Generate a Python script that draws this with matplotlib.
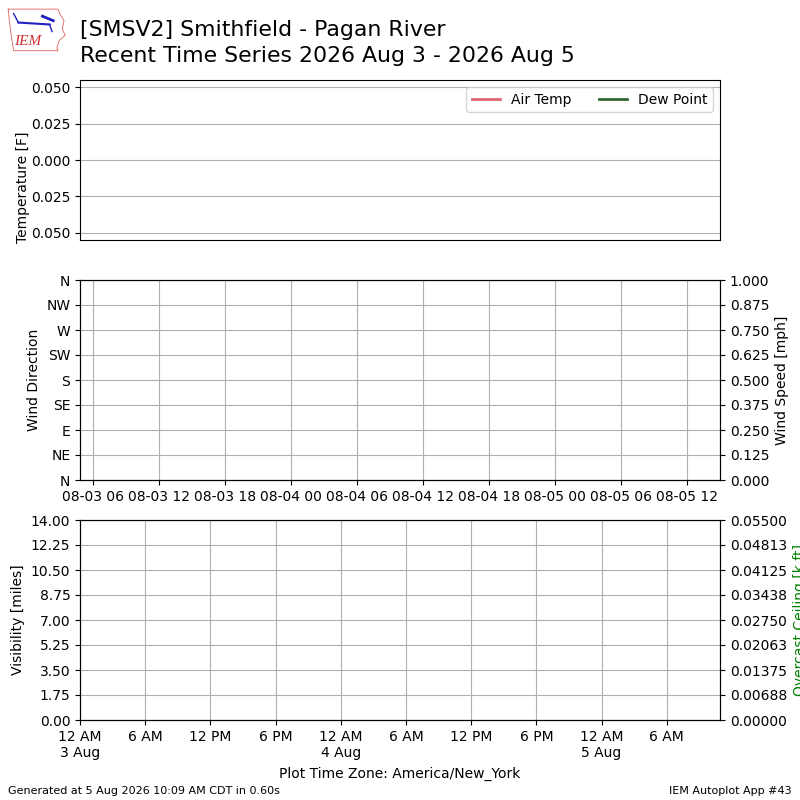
import datetime
import matplotlib
matplotlib.use('Agg')
import matplotlib.pyplot as plt
import matplotlib.dates as mdates
from matplotlib.ticker import FixedLocator, FuncFormatter

# data (the station reported nothing, so the series are empty)
times = []
air_temp = []
dew_point = []
wind_dir = []
wind_speed = []
visibility = []
ceiling = []

title_lines = ['[SMSV2] Smithfield - Pagan River',
               'Recent Time Series 2026 Aug 3 - 2026 Aug 5']
dir_ticks = [0, 45, 90, 135, 180, 225, 270, 315, 360]
dir_labels = ['N', 'NE', 'E', 'SE', 'S', 'SW', 'W', 'NW', 'N']
speed_ticks = [0, 0.125, 0.25, 0.375, 0.5, 0.625, 0.75, 0.875, 1.0]
vis_ticks = [0, 1.75, 3.5, 5.25, 7.0, 8.75, 10.5, 12.25, 14.0]
ceil_ticks = [0, 0.006875, 0.01375, 0.020625, 0.0275, 0.034375,
              0.04125, 0.048125, 0.055]

mid_xlim = (datetime.datetime(2026, 8, 3, 4, 49), datetime.datetime(2026, 8, 5, 15, 0))
bot_xlim = (datetime.datetime(2026, 8, 3, 0, 0), datetime.datetime(2026, 8, 5, 10, 54))

fig = plt.figure(figsize=(8, 8), dpi=100)

# title
fig.text(0.1, 0.9625, title_lines[0], fontsize=15.8, va='center')
fig.text(0.1, 0.93, title_lines[1], fontsize=15.8, va='center')

# rough logo: state outline + IEM
logo = fig.add_axes([0.008, 0.935, 0.075, 0.056])
logo.set_xlim(0, 10)
logo.set_ylim(0, 7)
logo.axis('off')
outline_x = [0.3, 8.6, 9.0, 9.6, 9.3, 9.8, 8.8, 8.4, 8.6, 1.2, 0.9, 0.5, 0.3]
outline_y = [6.7, 6.7, 5.8, 4.9, 3.6, 2.6, 1.8, 0.6, 0.2, 0.2, 2.0, 4.8, 6.7]
logo.plot(outline_x, outline_y, color='#e06060', lw=0.6)
logo.plot([2.0, 7.2], [4.6, 4.3], color='#2020c0', lw=1.5)
logo.plot([2.0, 1.2], [4.6, 6.0], color='#2020c0', lw=1.0)
logo.plot([6.0, 7.8], [5.6, 4.9], color='#2020c0', lw=2.0)
logo.plot([7.2, 7.6], [4.3, 3.2], color='#2020c0', lw=1.0)
logo.text(3.5, 1.7, 'IEM', color='#d03030', fontsize=11, style='italic',
          family='Liberation Serif', ha='center', va='center')

# top: temperature
ax1 = fig.add_axes([0.1, 0.7, 0.8, 0.2])
ax1.plot(times, air_temp, color='#e06670', lw=2, label='Air Temp')
ax1.plot(times, dew_point, color='#336633', lw=2, label='Dew Point')
ax1.set_ylim(-0.055, 0.055)
ax1.set_yticks([-0.05, -0.025, 0, 0.025, 0.05])
ax1.yaxis.set_major_formatter(FuncFormatter(lambda v, p: '%.3f' % abs(v)))
ax1.set_xticks([])
ax1.grid(True, axis='y')
ax1.set_ylabel('Temperature [F]')
ax1.yaxis.set_label_coords(-0.078, 0.33)
ax1.legend(loc='upper right', ncol=2)

# middle: wind
ax2 = fig.add_axes([0.1, 0.4, 0.8, 0.25])
ax2.plot(times, wind_dir, 'o', color='b')
ax2.set_ylim(0, 360)
ax2.yaxis.set_major_locator(FixedLocator(dir_ticks))
ax2.set_yticklabels(dir_labels)
ax2.set_ylabel('Wind Direction')
ax2.set_xlim(*mid_xlim)
ax2.xaxis.set_major_locator(mdates.HourLocator(byhour=[0, 6, 12, 18]))
ax2.xaxis.set_major_formatter(mdates.DateFormatter('%m-%d %H'))
ax2.grid(True)
ax2b = ax2.twinx()
ax2b.plot(times, wind_speed, color='k')
ax2b.set_ylim(0, 1)
ax2b.set_yticks(speed_ticks)
ax2b.yaxis.set_major_formatter(FuncFormatter(lambda v, p: '%.3f' % v))
ax2b.set_ylabel('Wind Speed [mph]')

# bottom: visibility / ceiling
ax3 = fig.add_axes([0.1, 0.1, 0.8, 0.25])
ax3.plot(times, visibility, color='b')
ax3.set_ylim(0, 14)
ax3.set_yticks(vis_ticks)
ax3.yaxis.set_major_formatter(FuncFormatter(lambda v, p: '%.2f' % v))
ax3.set_ylabel('Visibility [miles]')
ax3.set_xlim(*bot_xlim)
ticks = [bot_xlim[0] + datetime.timedelta(hours=6 * i) for i in range(10)]
ax3.set_xticks(ticks)
labels = []
for t in ticks:
    s = t.strftime('%I %p').lstrip('0')
    if t.hour == 0:
        s += '\n%d %s' % (t.day, t.strftime('%b'))
    labels.append(s)
ax3.set_xticklabels(labels)
ax3.grid(True)
ax3.set_xlabel('Plot Time Zone: America/New_York', labelpad=5)
ax3b = ax3.twinx()
ax3b.plot(times, ceiling, color='g')
ax3b.set_ylim(0, 0.055)
ax3b.set_yticks(ceil_ticks)
ax3b.yaxis.set_major_formatter(FuncFormatter(lambda v, p: '%.5f' % v))
ax3b.set_ylabel('Overcast Ceiling [k ft]', color='g')

# footer
fig.text(0.01, 0.008, 'Generated at 5 Aug 2026 10:09 AM CDT in 0.60s', fontsize=8)
fig.text(0.99, 0.008, 'IEM Autoplot App #43', fontsize=8, ha='right')

fig.savefig('out.png', dpi=100)
